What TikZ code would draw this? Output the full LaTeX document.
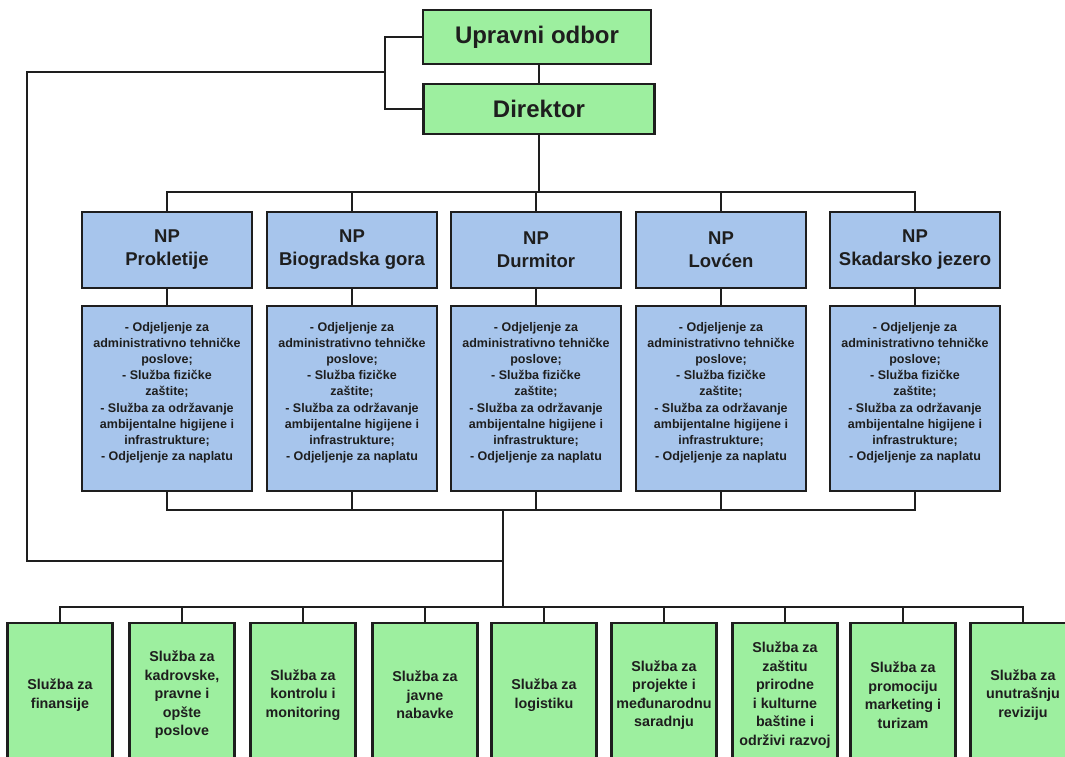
\documentclass[tikz,border=0pt]{standalone}
\usepackage{fontspec}
\setmainfont{Liberation Sans}
\definecolor{boxline}{HTML}{1E1E1E}
\definecolor{upgreen}{HTML}{9DEF9F}
\definecolor{npblue}{HTML}{A7C5EC}
\newcommand{\opis}{- Odjeljenje za\\administrativno tehničke\\poslove;\\- Služba fizičke\\zaštite;\\- Služba za održavanje\\ambijentalne higijene i\\infrastrukture;\\- Odjeljenje za naplatu\\[-2pt]\mbox{}}
\tikzset{
  box/.style={draw=boxline, line width=2.6pt, align=center, inner sep=2pt, text=boxline},
  topbox/.style={box, fill=upgreen, font=\fontsize{24}{28}\selectfont\bfseries},
  npbox/.style={box, fill=npblue, minimum width=170pt, minimum height=76pt, font=\fontsize{18.5}{23}\selectfont\bfseries},
  descbox/.style={box, fill=npblue, minimum width=170pt, minimum height=185pt, font=\fontsize{12.5}{16.2}\selectfont\bfseries},
  sluzba/.style={box, fill=upgreen, minimum width=105pt, minimum height=144pt, font=\fontsize{14.3}{18.5}\selectfont\bfseries},
  conn/.style={draw=boxline, line width=1.9pt}
}
\begin{document}
\begin{tikzpicture}[x=1pt,y=-1pt]
\useasboundingbox (0,0) rectangle (1065,756);
\clip (0,0) rectangle (1065,756);

% Upravni odbor i direktor
\node[topbox, minimum width=228pt, minimum height=54pt] (uo) at (537,37) {Upravni odbor};
\node[topbox, minimum width=231pt, minimum height=50pt] (dir) at (539,109) {Direktor};
\draw[conn] (dir.north) -- (dir.north |- uo.south);
\draw[conn] (uo.west) -- ++(-37,0) |- (dir.west);

\coordinate (knee) at (386,72);
\coordinate (mid) at (503,510);
\coordinate (join) at (503,561);
\coordinate (sbus) at (503,607);
\draw[conn] (knee) -- (27,72) |- (join);
\draw[conn] (mid) -- (sbus);

% Nacionalni parkovi
\foreach \np/\x/\ime in {pro/167/Prokletije, bio/352/Biogradska gora, dur/536/Durmitor, lov/721/Lovćen, ska/915/Skadarsko jezero}{
  \node[npbox] (\np) at (\x,250) {NP\\\ime};
  \node[descbox] (\np-o) at (\x,398.5) {\opis};
  \draw[conn] (dir.south) -- ++(0,57) -| (\np.north);
  \draw[conn] (\np) -- (\np-o);
  \draw[conn] (\np-o.south) |- (mid);
}

% Sluzbe
\foreach \s/\x/\txt in {fin/60/{Služba za\\finansije},
    kadr/182/{Služba za\\kadrovske,\\pravne i\\opšte\\poslove},
    kontr/303/{Služba za\\kontrolu i\\monitoring},
    nab/425/{Služba za\\javne\\nabavke},
    log/544/{Služba za\\logistiku},
    proj/664/{Služba za\\projekte i\\međunarodnu\\saradnju},
    zast/785/{Služba za\\zaštitu\\prirodne\\i kulturne\\baštine i\\održivi razvoj},
    prom/903/{Služba za\\promociju\\marketing i\\turizam},
    rev/1023/{Služba za\\unutrašnju\\reviziju}}{
  \node[sluzba] (\s) at (\x,695) {\txt};
  \draw[conn] (sbus) -| (\s.north);
}

\end{tikzpicture}
\end{document}
